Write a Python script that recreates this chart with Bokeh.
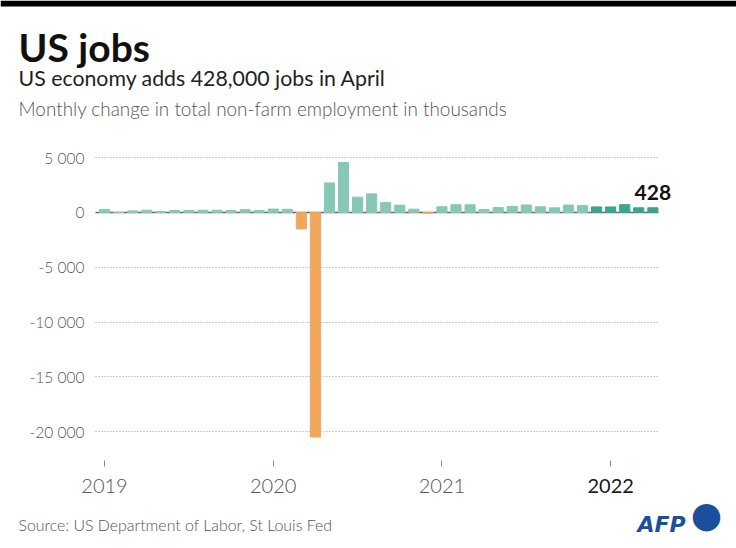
from bokeh.plotting import figure
from bokeh.models import Label, BoxAnnotation, FixedTicker, ColumnDataSource, Range1d, Grid
from bokeh.embed import file_html
from bokeh.resources import INLINE

# ---- data (monthly change, thousands) ----
months = list(range(40))  # Jan 2019 .. Apr 2022
values_2019 = [269, 1, 147, 210, 85, 182, 194, 207, 208, 185, 261, 184]
values_2020 = [315, 289, -1500, -20490, 2700, 4560, 1400, 1700, 900, 670, 300, -60]
values_2021 = [520, 710, 704, 263, 447, 557, 689, 517, 424, 677, 647, 510]
values_2022 = [504, 714, 428, 428]
values = values_2019 + values_2020 + values_2021 + values_2022

year_ticks = [0, 12, 24, 36]
year_labels = ["2019", "2020", "2021", "2022"]
y_ticks = [5000, 0, -5000, -10000, -15000, -20000]
y_labels = ["5 000", "0", "-5 000", "-10 000", "-15 000", "-20 000"]

LIGHT = "#86c8b5"
DARK = "#3aa48d"
ORANGE = "#f1a75b"
colors = []
for i, v in enumerate(values):
    if v < 0:
        colors.append(ORANGE)
    elif i >= 35:
        colors.append(DARK)
    else:
        colors.append(LIGHT)

src = ColumnDataSource(dict(x=months, top=values, color=colors))

W, H = 736, 548
# pixel scale: 14.06 px per month, 10.96 px per 1000 jobs
X0, X1 = -7.397, 44.95
Y0, Y1 = -30657, 19343
AX_X = -0.64      # left edge of plot area (data x)
AX_Y = -22628     # bottom edge of plot area (data y)
GRID_END = 39.4

LIGHT_FONT = "'Lato Light', Lato"

p = figure(width=W, height=H, output_backend="svg", toolbar_location=None,
           x_range=Range1d(X0, X1), y_range=Range1d(Y0, Y1),
           min_border=0)
p.outline_line_color = None
p.background_fill_color = "white"
p.border_fill_color = "white"

p.xgrid.grid_line_color = None
p.ygrid.grid_line_color = None

# dotted grid lines limited to the plot area
grid = Grid(dimension=1, ticker=FixedTicker(ticks=[t for t in y_ticks if t != 0]),
            grid_line_color="#a0a0a0", grid_line_dash="1 2", grid_line_width=1)
zero = Grid(dimension=1, ticker=FixedTicker(ticks=[0]),
            grid_line_color="#6a6a6a", grid_line_width=1.5)
try:
    grid.cross_bounds = (AX_X, GRID_END)
    zero.cross_bounds = (AX_X, GRID_END)
    p.add_layout(grid)
    p.add_layout(zero)
except Exception:
    gy = [t for t in y_ticks if t != 0]
    p.segment(x0=[AX_X] * len(gy), x1=[GRID_END] * len(gy), y0=gy, y1=gy,
              line_color="#a0a0a0", line_dash="1 2", line_width=1)
    p.segment(x0=[AX_X], x1=[GRID_END], y0=[0], y1=[0], line_color="#6a6a6a", line_width=1.5)

p.yaxis.fixed_location = AX_X
p.yaxis.ticker = FixedTicker(ticks=y_ticks)
p.yaxis.major_label_overrides = {t: l for t, l in zip(y_ticks, y_labels)}
p.yaxis.axis_line_color = None
p.yaxis.major_tick_line_color = None
p.yaxis.minor_tick_line_color = None
p.yaxis.major_label_text_font = LIGHT_FONT
p.yaxis.major_label_text_font_size = "15.5px"
p.yaxis.major_label_text_color = "#555555"
p.yaxis.major_label_standoff = 5

p.xaxis.fixed_location = AX_Y
p.xaxis.ticker = FixedTicker(ticks=year_ticks)
p.xaxis.major_label_overrides = {t: (l if l != "2022" else "") for t, l in zip(year_ticks, year_labels)}
p.xaxis.axis_line_color = None
p.xaxis.minor_tick_line_color = None
p.xaxis.major_tick_line_color = "#888888"
p.xaxis.major_tick_in = 0
p.xaxis.major_tick_out = 6
p.xaxis.major_label_text_font = LIGHT_FONT
p.xaxis.major_label_text_font_size = "20px"
p.xaxis.major_label_text_color = "#555555"
p.xaxis.major_label_standoff = 12

p.vbar(x="x", top="top", bottom=0, width=0.72, color="color", source=src)

# darker 2022 tick label (current year)
p.add_layout(Label(x=year_ticks[-1], y=AX_Y, y_offset=-18, text=year_labels[-1],
                   text_align="center", text_baseline="top", text_font="Lato",
                   text_font_size="20px", text_color="#1a1a1a"))

# last value label
p.add_layout(Label(x=months[-1], y=values[-1], text=str(values[-1]), text_align="center",
                   text_baseline="bottom", y_offset=8, text_font="Lato",
                   text_font_style="bold", text_font_size="21px", text_color="#111111"))


def lab(text, fx, fy, size, color, style="normal", font="Lato", align="left", baseline="alphabetic"):
    p.add_layout(Label(x=fx, y=H - fy, x_units="screen", y_units="screen", text=text,
                       text_font=font, text_font_size=size, text_color=color,
                       text_font_style=style, text_align=align, text_baseline=baseline))


# top black bar
p.add_layout(BoxAnnotation(left=0, right=W, top=H, bottom=H - 6,
                           left_units="screen", right_units="screen",
                           top_units="screen", bottom_units="screen",
                           fill_color="black", fill_alpha=1, line_color=None))

lab("US jobs", 18, 46, "39px", "#111111", style="bold")
lab("US economy adds 428,000 jobs in April", 18, 77, "21.3px", "#222222")
lab("Monthly change in total non-farm employment in thousands", 18, 108, "18.9px", "#555555", font=LIGHT_FONT)
lab("Source: US Department of Labor, St Louis Fed", 18, 524, "15.9px", "#555555", font=LIGHT_FONT)
lab("AFP", 637, 524, "22px", "#1b4f9c", style="bold italic", font="DejaVu Sans")
lab("\u25cf", 706, 514, "36px", "#1b4f9c", font="DejaVu Sans", align="center", baseline="middle")

open("out.html", "w").write(file_html(p, INLINE))
